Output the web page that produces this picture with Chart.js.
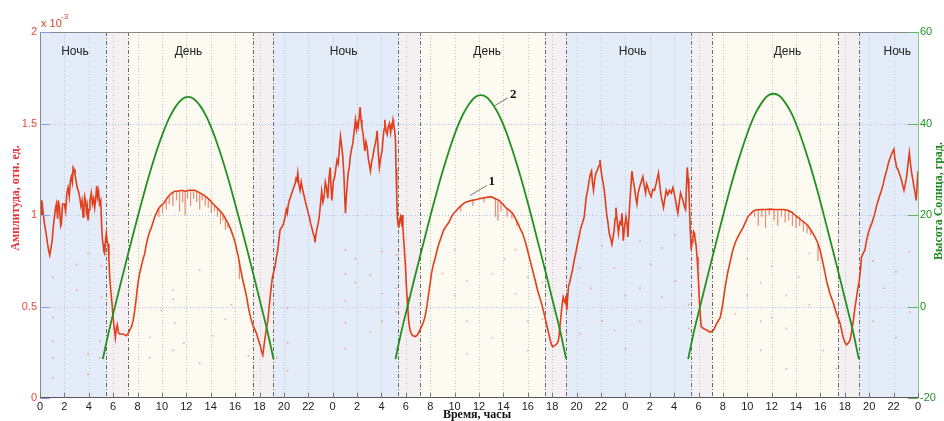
<!DOCTYPE html>
<html>
<head>
<meta charset="utf-8">
<script src="https://cdn.jsdelivr.net/npm/chart.js@4"></script>
<style>
html,body{margin:0;padding:0;background:#fff;}
canvas{display:block;}
</style>
</head>
<body>
<canvas id="c" width="944" height="421"></canvas>
<script>
// Amplitude record, [hour, value x1e-3], split by period
const ampNight1 = [[0,1.05],[0.1,1.0],[0.15,1.08],[0.25,1.02],[0.35,0.96],[0.5,0.9],[0.6,0.85],[0.7,0.81],[0.8,0.78],[0.9,0.82],[1.0,0.86],[1.07,0.92],[1.15,0.97],[1.25,1.03],[1.34,1.06],[1.45,0.98],[1.5,1.08],[1.6,1.04],[1.7,0.94],[1.75,0.95],[1.85,1.06],[2.0,1.06],[2.1,1.02],[2.2,1.12],[2.3,1.15],[2.4,1.1],[2.5,1.19],[2.57,1.21],[2.65,1.18],[2.72,1.26],[2.79,1.25],[2.87,1.22],[2.95,1.19],[3.05,1.15],[3.15,1.13],[3.25,1.1],[3.35,1.05],[3.45,1.08],[3.53,0.99],[3.6,1.04],[3.67,1.1],[3.73,1.08],[3.8,1.02],[3.87,1.05],[3.94,0.97],[4.02,1.03],[4.1,1.08],[4.21,1.12],[4.3,1.06],[4.4,1.09],[4.49,1.04],[4.57,1.09],[4.65,1.16],[4.72,1.1],[4.8,1.13],[4.88,1.06],[4.98,1.08],[5.05,0.95],[5.1,0.88],[5.17,0.84],[5.24,0.8],[5.3,0.79],[5.37,0.86],[5.44,0.9]];
const ampDay1 = [[5.5,0.86],[5.58,0.84],[5.65,0.76],[5.72,0.66],[5.8,0.59],[5.9,0.52],[5.98,0.45],[6.07,0.39],[6.18,0.33],[6.26,0.38],[6.34,0.4],[6.42,0.36],[6.53,0.35],[6.65,0.35],[6.8,0.35],[6.95,0.345],[7.08,0.34],[7.2,0.35],[7.35,0.37],[7.5,0.39],[7.63,0.42],[7.75,0.47],[7.85,0.52],[7.95,0.58],[8.04,0.63],[8.17,0.68],[8.31,0.72],[8.45,0.76],[8.59,0.79],[8.72,0.84],[8.86,0.88],[9.0,0.91],[9.13,0.93],[9.27,0.96],[9.41,0.99],[9.55,1.01],[9.68,1.03],[9.9,1.05],[10.1,1.06],[10.3,1.08],[10.5,1.1],[10.8,1.12],[11.05,1.13],[11.3,1.13],[11.6,1.135],[11.9,1.13],[12.2,1.135],[12.5,1.135],[12.7,1.135],[13.0,1.125],[13.4,1.11],[13.7,1.095],[13.95,1.08],[14.2,1.06],[14.5,1.04],[14.8,1.02],[15.04,1.0],[15.25,0.975],[15.45,0.95],[15.65,0.92],[15.86,0.88],[16.0,0.85],[16.13,0.81],[16.27,0.77],[16.4,0.72],[16.55,0.67],[16.68,0.63],[16.82,0.59],[16.95,0.55],[17.08,0.5],[17.2,0.46],[17.35,0.42],[17.5,0.39],[17.65,0.37],[17.77,0.35],[17.9,0.32],[18.05,0.29],[18.15,0.26],[18.27,0.235],[18.36,0.28],[18.46,0.33],[18.57,0.38],[18.68,0.42],[18.78,0.49],[18.87,0.55],[18.97,0.61],[19.06,0.66]];
const ampNight2 = [[19.17,0.69],[19.28,0.72],[19.39,0.77],[19.5,0.81],[19.6,0.87],[19.69,0.92],[19.8,0.93],[19.96,0.95],[20.1,0.99],[20.2,1.03],[20.28,1.01],[20.37,1.06],[20.5,1.09],[20.65,1.12],[20.75,1.14],[20.85,1.16],[20.92,1.17],[21.0,1.2],[21.07,1.19],[21.14,1.23],[21.22,1.17],[21.33,1.135],[21.42,1.18],[21.5,1.15],[21.6,1.12],[21.74,1.08],[21.85,1.05],[22.0,1.01],[22.12,0.98],[22.2,0.95],[22.29,0.93],[22.4,0.9],[22.5,0.88],[22.55,0.85],[22.62,0.89],[22.7,0.92],[22.8,0.95],[22.9,0.99],[23.0,1.06],[23.1,1.13],[23.2,1.07],[23.3,1.1],[23.4,1.18],[23.5,1.15],[23.6,1.09],[23.7,1.2],[23.8,1.26],[23.87,1.15],[23.93,1.08],[24.05,1.18],[24.17,1.21],[24.27,1.26],[24.36,1.3],[24.45,1.28],[24.55,1.36],[24.64,1.43],[24.73,1.38],[24.83,1.32],[24.92,1.22],[25.0,1.08],[25.05,1.01],[25.12,1.1],[25.2,1.17],[25.27,1.23],[25.36,1.26],[25.45,1.32],[25.55,1.36],[25.65,1.39],[25.75,1.45],[25.87,1.52],[25.95,1.47],[26.02,1.5],[26.09,1.48],[26.17,1.53],[26.25,1.59],[26.33,1.52],[26.4,1.48],[26.5,1.44],[26.57,1.39],[26.64,1.35],[26.73,1.4],[26.83,1.37],[26.92,1.31],[27.0,1.28],[27.1,1.24],[27.2,1.29],[27.3,1.32],[27.4,1.36],[27.5,1.39],[27.58,1.42],[27.65,1.46],[27.75,1.33],[27.83,1.26],[27.93,1.31],[28.05,1.35],[28.15,1.43],[28.22,1.47],[28.28,1.52],[28.37,1.46],[28.47,1.44],[28.55,1.48],[28.65,1.5],[28.75,1.45],[28.82,1.49],[28.88,1.48],[28.95,1.52],[29.0,1.5],[29.1,1.45],[29.15,1.41],[29.2,1.25],[29.25,1.11],[29.3,0.99],[29.36,0.95]];
const ampDay2 = [[29.42,0.93],[29.49,0.97],[29.56,0.99],[29.63,0.96],[29.7,1.0],[29.76,0.93],[29.83,0.86],[29.9,0.79],[29.97,0.72],[30.03,0.63],[30.1,0.55],[30.17,0.48],[30.25,0.41],[30.35,0.37],[30.46,0.35],[30.6,0.34],[30.74,0.335],[30.87,0.34],[31.0,0.35],[31.14,0.37],[31.28,0.39],[31.42,0.41],[31.56,0.44],[31.7,0.49],[31.83,0.55],[31.96,0.61],[32.1,0.68],[32.26,0.73],[32.43,0.77],[32.57,0.81],[32.7,0.84],[32.9,0.88],[33.12,0.92],[33.32,0.94],[33.53,0.96],[33.74,0.99],[33.94,1.01],[34.15,1.025],[34.35,1.04],[34.6,1.055],[34.9,1.07],[35.15,1.075],[35.44,1.08],[35.8,1.085],[36.12,1.09],[36.5,1.095],[36.97,1.1],[37.3,1.09],[37.65,1.08],[37.95,1.06],[38.2,1.04],[38.5,1.025],[38.75,1.01],[38.95,0.985],[39.15,0.96],[39.35,0.93],[39.57,0.9],[39.77,0.86],[39.97,0.81],[40.18,0.755],[40.39,0.7],[40.6,0.645],[40.8,0.59],[41.0,0.545],[41.2,0.5],[41.34,0.46],[41.48,0.42],[41.62,0.38],[41.76,0.34],[41.9,0.3],[42.03,0.28],[42.15,0.285],[42.3,0.29],[42.42,0.3],[42.52,0.315],[42.62,0.38],[42.71,0.44],[42.8,0.5],[42.9,0.55],[42.98,0.53],[43.07,0.52],[43.14,0.56]];
const ampNight3 = [[43.2,0.48],[43.27,0.55],[43.34,0.61],[43.43,0.63],[43.53,0.66],[43.67,0.7],[43.8,0.75],[43.93,0.79],[44.07,0.84],[44.2,0.88],[44.35,0.93],[44.5,0.96],[44.63,0.99],[44.72,1.05],[44.8,1.1],[44.92,1.14],[45.04,1.19],[45.12,1.22],[45.23,1.24],[45.3,1.18],[45.39,1.135],[45.48,1.19],[45.59,1.23],[45.68,1.24],[45.78,1.26],[45.85,1.27],[45.92,1.3],[46.0,1.25],[46.08,1.21],[46.17,1.18],[46.27,1.135],[46.36,1.08],[46.46,1.01],[46.57,0.96],[46.68,0.9],[46.8,0.87],[46.9,0.84],[47.0,0.88],[47.09,0.92],[47.16,0.98],[47.23,1.04],[47.3,0.99],[47.37,0.94],[47.44,0.9],[47.54,0.96],[47.64,0.95],[47.73,1.01],[47.83,0.86],[47.93,0.93],[48.05,0.99],[48.14,0.95],[48.21,0.88],[48.28,0.97],[48.34,1.04],[48.44,1.14],[48.54,1.24],[48.64,1.19],[48.75,1.15],[48.85,1.1],[48.95,1.06],[49.05,1.12],[49.16,1.15],[49.3,1.18],[49.44,1.21],[49.55,1.16],[49.66,1.12],[49.75,1.17],[49.85,1.15],[49.98,1.12],[50.12,1.1],[50.25,1.14],[50.39,1.135],[50.52,1.17],[50.62,1.2],[50.72,1.23],[50.83,1.16],[50.94,1.1],[51.04,1.07],[51.13,1.04],[51.24,1.09],[51.35,1.135],[51.48,1.11],[51.62,1.135],[51.76,1.12],[51.9,1.15],[52.0,1.12],[52.12,1.08],[52.22,1.04],[52.31,1.01],[52.42,1.07],[52.53,1.12],[52.62,1.1],[52.72,1.08],[52.83,1.05],[52.94,1.03],[53.01,1.15],[53.08,1.26],[53.15,1.2],[53.21,1.135],[53.27,1.02],[53.32,0.92]];
const ampDay3 = [[53.4,0.81],[53.47,0.85],[53.54,0.88],[53.6,0.91],[53.67,0.9],[53.74,0.86],[53.81,0.83],[53.88,0.77],[53.95,0.7],[54.02,0.61],[54.08,0.52],[54.15,0.45],[54.22,0.39],[54.32,0.385],[54.41,0.38],[54.55,0.375],[54.69,0.37],[54.82,0.365],[54.96,0.36],[55.1,0.365],[55.23,0.37],[55.37,0.39],[55.51,0.41],[55.65,0.425],[55.78,0.44],[55.9,0.48],[56.0,0.52],[56.13,0.58],[56.27,0.64],[56.41,0.69],[56.55,0.73],[56.68,0.77],[56.82,0.81],[57.02,0.85],[57.23,0.88],[57.43,0.905],[57.64,0.93],[57.85,0.96],[58.05,0.99],[58.25,1.005],[58.46,1.02],[58.75,1.028],[59.0,1.03],[59.3,1.03],[59.55,1.03],[59.9,1.032],[60.24,1.03],[60.68,1.03],[61.0,1.03],[61.36,1.025],[61.65,1.015],[61.91,1.0],[62.2,0.985],[62.45,0.97],[62.75,0.955],[63.0,0.94],[63.28,0.91],[63.55,0.88],[63.76,0.85],[63.96,0.81],[64.1,0.77],[64.23,0.73],[64.37,0.685],[64.5,0.64],[64.64,0.605],[64.78,0.57],[64.92,0.545],[65.05,0.52],[65.18,0.49],[65.32,0.46],[65.46,0.435],[65.6,0.41],[65.74,0.37],[65.87,0.33],[66.0,0.305],[66.14,0.29],[66.28,0.3],[66.42,0.315],[66.55,0.36],[66.69,0.42],[66.82,0.49],[66.96,0.55],[67.07,0.6],[67.18,0.64]];
const ampNight4 = [[67.28,0.7],[67.37,0.77],[67.5,0.79],[67.65,0.81],[67.78,0.86],[67.92,0.9],[68.05,0.93],[68.19,0.95],[68.33,0.98],[68.47,1.01],[68.6,1.05],[68.74,1.08],[68.88,1.11],[69.01,1.135],[69.15,1.17],[69.29,1.21],[69.42,1.24],[69.56,1.28],[69.65,1.3],[69.75,1.32],[69.88,1.34],[70.02,1.36],[70.1,1.31],[70.17,1.29],[70.24,1.26],[70.35,1.25],[70.46,1.23],[70.55,1.21],[70.65,1.19],[70.75,1.16],[70.85,1.135],[70.96,1.17],[71.07,1.21],[71.18,1.28],[71.29,1.34],[71.38,1.28],[71.48,1.23],[71.58,1.19],[71.68,1.15],[71.77,1.12],[71.85,1.08],[71.93,1.16],[72.0,1.24]];

// Brief downward drop-outs on the daytime record: [hour, from, to]
const ampDropouts = [[9.75,1.03,0.99],[10.05,1.05,1.01],[10.35,1.08,1.03],[10.6,1.1,1.06],[10.9,1.12,1.05],[11.2,1.13,1.08],[11.45,1.13,1.02],[11.7,1.13,1.07],[11.9,1.13,1.0],[12.1,1.13,1.09],[12.35,1.135,1.05],[12.6,1.13,1.09],[12.85,1.13,1.07],[13.1,1.12,1.03],[13.3,1.11,1.08],[13.55,1.1,1.05],[13.8,1.09,1.04],[14.05,1.07,1.01],[14.3,1.05,1.02],[14.55,1.04,0.99],[14.8,1.02,0.95],[15.0,1.0,0.97],[15.2,0.98,0.92],[15.4,0.95,0.93],[16.35,0.74,0.65],
  [34.5,1.05,1.02],[35.5,1.08,1.05],[36.4,1.095,1.07],[37.35,1.09,0.99],[37.55,1.08,0.97],[37.8,1.07,1.02],[38.3,1.035,0.99],[38.7,1.01,0.98],[39.1,0.97,0.94],
  [58.6,1.02,0.99],[58.9,1.03,0.94],[59.2,1.03,0.99],[59.5,1.03,0.93],[59.8,1.03,1.0],[60.2,1.03,0.97],[60.5,1.03,0.94],[60.8,1.03,0.99],[61.1,1.03,0.96],[61.4,1.025,0.97],[61.7,1.01,0.94],[62.0,1.0,0.93],[62.3,0.99,0.94],[62.6,0.96,0.91],[62.9,0.945,0.9],[63.2,0.92,0.89],[63.8,0.84,0.75]];

// Isolated outlier samples: [hour, value]
const ampOutliers = [[1.05,0.66],[1.05,0.44],[1.05,0.31],[1.05,0.22],[1.05,0.11],[3.0,0.73],[3.0,0.59],[3.94,0.79],[3.94,0.24],[3.94,0.13],[4.9,0.31],[5.03,0.72],[5.03,0.55],[4.9,0.22],
  [9.0,0.33],[9.0,0.22],[9.95,0.48],[10.9,0.59],[10.93,0.54],[11.05,0.41],[10.93,0.26],[11.8,0.3],[13.1,0.7],[13.1,0.19],[14.2,0.34],[15.2,0.43],[15.7,0.51],[17.1,0.23],[19.4,0.22],[20.3,0.49],[20.3,0.3],[20.3,0.15],
  [25.04,0.81],[25.04,0.68],[25.04,0.53],[25.04,0.41],[25.04,0.27],[25.87,0.76],[25.87,0.63],[27.1,0.67],[27.1,0.36],[28.05,0.8],[28.05,0.57],[28.05,0.42],[29.2,0.78],[29.2,0.6],[29.2,0.47],[29.2,0.27],[33.0,0.68],[34.0,0.81],[34.0,0.56],[35.0,0.64],[35.0,0.42],[35.0,0.24],
  [37.1,0.68],[37.1,0.33],[38.1,0.76],[39.0,0.81],[39.0,0.57],[40.0,0.66],[40.0,0.42],[40.0,0.26],[41.2,0.63],[41.2,0.43],[43.2,0.35],[44.3,0.71],[44.3,0.35],[45.2,0.6],[46.1,0.83],[46.1,0.42],[47.1,0.71],[47.1,0.37],[48.0,0.56],[48.0,0.27],
  [49.2,0.86],[49.2,0.6],[49.2,0.42],[50.1,0.73],[51.0,0.82],[51.0,0.55],[52.1,0.89],[52.1,0.64],[53.2,0.51],[53.2,0.38],[57.0,0.46],[58.0,0.76],[58.0,0.56],[59.1,0.63],[59.1,0.42],[59.1,0.26],[60.0,0.72],[60.0,0.44],
  [61.2,0.56],[61.2,0.38],[61.2,0.16],[62.2,0.66],[63.1,0.79],[63.1,0.51],[64.2,0.26],[65.3,0.16],[68.3,0.75],[68.3,0.42],[69.2,0.6],[70.2,0.69],[70.2,0.33],[71.3,0.8],[71.3,0.47]];

// Solar elevation, degrees, at half-hour steps of local time for each day
const dayStart = [0, 24, 48];
const sunHour = [5.15,5.65,6.15,6.65,7.15,7.65,8.15,8.65,9.15,9.65,10.15,10.65,11.15,11.65,12.15,12.65,13.15,13.65,14.15,14.65,15.15,15.65,16.15,16.65,17.15,17.65,18.15,18.65,19.15];
const sunElev1 = [-11.5,-5.4,0,5.4,10.7,15.9,21.0,25.9,30.5,34.7,38.4,41.5,43.8,45.3,45.8,45.3,43.8,41.5,38.4,34.7,30.5,25.9,21.0,15.9,10.7,5.4,0,-5.4,-11.5];
const sunElev2 = [-11.5,-5.3,0.1,5.5,10.8,16.0,21.2,26.1,30.7,34.9,38.7,41.8,44.1,45.7,46.2,45.7,44.1,41.8,38.7,34.9,30.7,26.1,21.2,16.0,10.8,5.5,0.1,-5.3,-11.5];
const sunElev3 = [-11.5,-5.2,0.2,5.6,10.9,16.1,21.3,26.3,30.9,35.1,38.9,42.1,44.4,46.0,46.5,46.0,44.4,42.1,38.9,35.1,30.9,26.3,21.3,16.1,10.9,5.6,0.2,-5.2,-11.5];

// Night / twilight / day intervals (hours) and their labels
const bandEdges = [0, 5.45, 7.2, 17.43, 19.12, 29.35, 31.15, 41.42, 43.15, 53.37, 55.12, 65.44, 67.17, 72];
const bandKinds = ['night','twilight','day','twilight','night','twilight','day','twilight','night','twilight','day','twilight','night'];
const bandLabelHour = [2.87, 12.18, 24.9, 36.67, 48.6, 61.3, 70.3];
const bandLabelText = ['Ночь','День','Ночь','День','Ночь','День','Ночь'];

// Axis ranges and ticks
const hourMin = 0, hourMax = 72, hourStep = 2;
const ampTicks = [0, 0.5, 1, 1.5, 2];
const elevTicks = [-20, 0, 20, 40, 60];

const bandColors = { night: '#e3ecf8', twilight: '#f4f0f2', day: '#fdfaf2' };
const RED = '#e23e1a';
const GREEN = '#229022';

const toXY = arr => arr.map(p => ({ x: p[0], y: p[1] }));
const ampSeries = [].concat(ampNight1, ampDay1, ampNight2, ampDay2, ampNight3, ampDay3, ampNight4);
const dropoutData = [];
ampDropouts.forEach(d => { dropoutData.push({x: d[0], y: d[1]}, {x: d[0], y: d[2]}, {x: d[0], y: null}); });
const sunSets = [sunElev1, sunElev2, sunElev3].map((el, k) =>
  el.map((v, i) => ({ x: dayStart[k] + sunHour[i], y: v })));

const serif = "'Liberation Serif', 'Times New Roman', serif";
const sans = "'Liberation Sans', Arial, sans-serif";
Chart.defaults.font.family = sans;

const backdrop = {
  id: 'backdrop',
  beforeDraw(chart) {
    const { ctx, chartArea: a, scales: { x } } = chart;
    ctx.save();
    ctx.fillStyle = '#fff';
    ctx.fillRect(0, 0, chart.width, chart.height);
    for (let i = 0; i < bandKinds.length; i++) {
      const x0 = x.getPixelForValue(bandEdges[i]);
      const x1 = x.getPixelForValue(bandEdges[i + 1]);
      ctx.fillStyle = bandColors[bandKinds[i]];
      ctx.fillRect(x0, a.top, x1 - x0, a.bottom - a.top);
    }
    ctx.restore();
  },
  beforeDatasetsDraw(chart) {
    const { ctx, chartArea: a, scales: { x, y } } = chart;
    ctx.save();
    ctx.lineWidth = 1;
    // vertical grid
    ctx.strokeStyle = '#c4c4c4';
    ctx.setLineDash([1, 2]);
    for (let h = hourMin + hourStep; h < hourMax; h += hourStep) {
      const px = Math.round(x.getPixelForValue(h)) + 0.5;
      ctx.beginPath(); ctx.moveTo(px, a.top); ctx.lineTo(px, a.bottom); ctx.stroke();
    }
    // horizontal grid
    ctx.strokeStyle = '#b3bff2';
    ampTicks.slice(1, -1).forEach(v => {
      const py = Math.round(y.getPixelForValue(v)) + 0.5;
      ctx.beginPath(); ctx.moveTo(a.left, py); ctx.lineTo(a.right, py); ctx.stroke();
    });
    // interval boundaries
    ctx.strokeStyle = '#6a6a6a';
    ctx.setLineDash([4, 2, 1, 2]);
    for (let i = 1; i < bandEdges.length - 1; i++) {
      const px = Math.round(x.getPixelForValue(bandEdges[i])) + 0.5;
      ctx.beginPath(); ctx.moveTo(px, a.top); ctx.lineTo(px, a.bottom); ctx.stroke();
    }
    ctx.setLineDash([]);
    // interval labels
    ctx.fillStyle = '#222';
    ctx.font = '12px ' + sans;
    ctx.textAlign = 'center';
    ctx.textBaseline = 'middle';
    bandLabelText.forEach((t, i) => ctx.fillText(t, x.getPixelForValue(bandLabelHour[i]), a.top + 20));
    ctx.restore();
  },
  afterDatasetsDraw(chart) {
    const { ctx, chartArea: a, scales: { x, y, y2 } } = chart;
    ctx.save();
    ctx.lineWidth = 1;
    // frame
    ctx.strokeStyle = '#8a8a8a';
    ctx.beginPath();
    ctx.moveTo(a.left + 0.5, a.bottom); ctx.lineTo(a.left + 0.5, a.top + 0.5); ctx.lineTo(a.right, a.top + 0.5);
    ctx.stroke();
    ctx.strokeStyle = '#555';
    ctx.beginPath(); ctx.moveTo(a.left, a.bottom - 0.5); ctx.lineTo(a.right, a.bottom - 0.5); ctx.stroke();
    ctx.strokeStyle = '#86c986';
    ctx.beginPath(); ctx.moveTo(a.right + 0.5, a.top); ctx.lineTo(a.right + 0.5, a.bottom); ctx.stroke();
    // inward tick marks
    ctx.strokeStyle = '#8c9be6';
    ampTicks.forEach(v => {
      const py = Math.round(y.getPixelForValue(v)) + 0.5;
      ctx.beginPath(); ctx.moveTo(a.left, py); ctx.lineTo(a.left + 10, py); ctx.stroke();
    });
    ctx.strokeStyle = '#5fb45f';
    elevTicks.forEach(v => {
      const py = Math.round(y2.getPixelForValue(v)) + 0.5;
      ctx.beginPath(); ctx.moveTo(a.right - 10, py); ctx.lineTo(a.right, py); ctx.stroke();
    });
    ctx.strokeStyle = '#777';
    for (let h = hourMin; h <= hourMax; h += hourStep) {
      const px = Math.round(x.getPixelForValue(h)) + 0.5;
      ctx.beginPath(); ctx.moveTo(px, a.bottom); ctx.lineTo(px, a.bottom - 5); ctx.stroke();
    }
    // curve labels with leaders
    ctx.strokeStyle = '#777';
    ctx.beginPath();
    ctx.moveTo(x.getPixelForValue(35.27), y.getPixelForValue(1.107));
    ctx.lineTo(x.getPixelForValue(36.67), y.getPixelForValue(1.162));
    ctx.moveTo(x.getPixelForValue(37.25), y2.getPixelForValue(43.8));
    ctx.lineTo(x.getPixelForValue(38.35), y2.getPixelForValue(45.6));
    ctx.stroke();
    ctx.fillStyle = '#111';
    ctx.font = 'bold 13px ' + serif;
    ctx.textAlign = 'center';
    ctx.textBaseline = 'middle';
    ctx.fillText('1', x.getPixelForValue(37.05), y.getPixelForValue(1.184));
    ctx.fillText('2', x.getPixelForValue(38.8), y2.getPixelForValue(46.2));
    ctx.restore();
  },
  afterDraw(chart) {
    const { ctx, chartArea: a } = chart;
    ctx.save();
    ctx.font = 'bold 12px ' + serif;
    ctx.textAlign = 'center';
    ctx.textBaseline = 'middle';
    ctx.fillStyle = '#111';
    ctx.fillText('Время, часы', 477, 415);
    ctx.fillStyle = '#e8333c';
    ctx.translate(16, 198); ctx.rotate(-Math.PI / 2);
    ctx.fillText('Амплитуда, отн. ед.', 0, 0);
    ctx.setTransform(1, 0, 0, 1, 0, 0);
    ctx.fillStyle = '#1f8a1f';
    ctx.translate(939, 201); ctx.rotate(-Math.PI / 2);
    ctx.fillText('Высота Солнца, град.', 0, 0);
    ctx.setTransform(1, 0, 0, 1, 0, 0);
    // scale factor of the amplitude axis
    ctx.fillStyle = '#d8452a';
    ctx.font = '11px ' + sans;
    ctx.textAlign = 'left';
    ctx.textBaseline = 'middle';
    ctx.fillText('x 10', a.left + 1, 24);
    ctx.font = '8px ' + sans;
    ctx.fillText('-3', a.left + 21, 17);
    ctx.restore();
  }
};

new Chart(document.getElementById('c'), {
  type: 'line',
  data: {
    datasets: [
      ...sunSets.map(d => ({
        data: d, yAxisID: 'y2', borderColor: GREEN, borderWidth: 1.8,
        pointRadius: 0, cubicInterpolationMode: 'monotone', fill: false
      })),
      { data: toXY(ampSeries), yAxisID: 'y', borderColor: RED, borderWidth: 1.6, pointRadius: 0, tension: 0, fill: false },
      { data: dropoutData, yAxisID: 'y', borderColor: 'rgba(228,90,60,0.35)', borderWidth: 1, pointRadius: 0, spanGaps: false, fill: false },
      { data: toXY(ampOutliers), yAxisID: 'y', showLine: false, pointRadius: 0.9, pointBorderWidth: 0,
        pointBackgroundColor: 'rgba(230,110,90,0.55)', fill: false }
    ]
  },
  options: {
    responsive: false,
    animation: false,
    devicePixelRatio: 1,
    layout: { padding: { top: 32, left: 0, right: 0, bottom: 0 } },
    plugins: { legend: { display: false }, tooltip: { enabled: false } },
    scales: {
      x: {
        type: 'linear', min: hourMin, max: hourMax,
        grid: { display: false, drawTicks: false }, border: { display: false },
        ticks: { stepSize: hourStep, autoSkip: false, maxRotation: 0, padding: 2,
          color: '#222', font: { size: 11 }, callback: v => String(v % 24) },
        afterFit: s => { s.height = 23; }
      },
      y: {
        position: 'left', min: 0, max: 2,
        grid: { display: false, drawTicks: false }, border: { display: false },
        afterBuildTicks: s => { s.ticks = ampTicks.map(v => ({ value: v })); },
        ticks: { padding: 3, color: '#e8483a', font: { size: 11 }, callback: v => String(v) },
        afterFit: s => { s.width = 40; }
      },
      y2: {
        position: 'right', min: -20, max: 60,
        grid: { display: false, drawTicks: false }, border: { display: false },
        afterBuildTicks: s => { s.ticks = elevTicks.map(v => ({ value: v })); },
        ticks: { padding: 2, color: '#229022', font: { size: 11 }, callback: v => String(v) },
        afterFit: s => { s.width = 26; }
      }
    }
  },
  plugins: [backdrop]
});
</script>
</body>
</html>
